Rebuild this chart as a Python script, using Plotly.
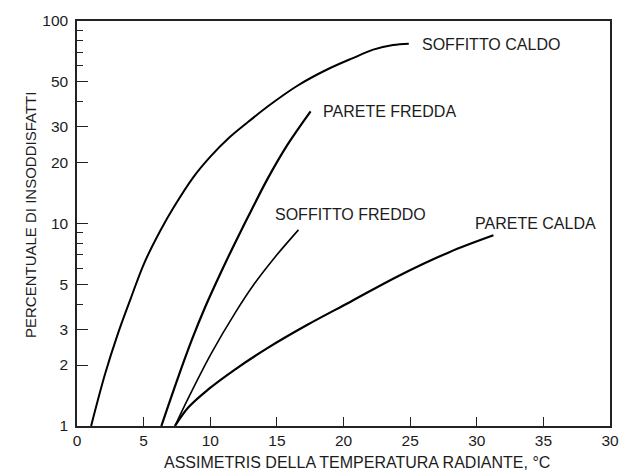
import math
import plotly.graph_objects as go

# Percentuale di insoddisfatti vs asimmetria della temperatura radiante
soffitto_caldo_x = [1.06, 2.1, 3.04, 4.03, 5.04, 6.25, 7.27, 8.75, 10.01, 11.35, 12.83,
                    14.56, 16.54, 18.77, 20.75, 22.23, 23.72, 24.9]
soffitto_caldo_y = [1.0, 1.8, 2.82, 4.26, 6.36, 9.21, 12.06, 17.0, 21.4, 26.3, 31.7,
                    38.9, 47.9, 57.6, 65.8, 72.2, 76.1, 77.3]

parete_fredda_x = [6.33, 7.49, 8.63, 9.62, 10.85, 11.85, 13.08, 14.32, 15.8, 17.53]
parete_fredda_y = [1.0, 1.667, 2.675, 3.87, 5.83, 7.99, 11.6, 16.7, 24.5, 35.8]

soffitto_freddo_x = [7.35, 8.38, 10.09, 11.87, 13.35, 14.84, 16.62]
soffitto_freddo_y = [1.0, 1.385, 2.29, 3.62, 5.08, 6.8, 9.3]

parete_calda_x = [7.35, 8.38, 9.87, 11.85, 14.32, 17.29, 20.5, 24.2, 27.9, 31.25]
parete_calda_y = [1.0, 1.24, 1.52, 1.9, 2.43, 3.16, 4.1, 5.54, 7.2, 8.74]

curve_names = ["SOFFITTO CALDO", "PARETE FREDDA", "SOFFITTO FREDDO", "PARETE CALDA"]

x_tickvals = [0, 5, 10, 15, 20, 25, 30, 35, 40]
x_ticktext = ["0", "5", "10", "15", "20", "25", "30", "35", "30"]
y_tickvals = [1, 2, 3, 5, 10, 20, 30, 50, 100]
y_minor = [4, 6, 7, 8, 9, 40, 60, 70, 80, 90]

x_title = "ASSIMETRIS DELLA TEMPERATURA RADIANTE, °C"
y_title = "PERCENTUALE DI INSODDISFATTI"

FONT = "Arial, 'Liberation Sans', sans-serif"
INK = "#1c1c1c"

series = [
    (soffitto_caldo_x, soffitto_caldo_y, 2.0),
    (parete_fredda_x, parete_fredda_y, 2.2),
    (soffitto_freddo_x, soffitto_freddo_y, 1.6),
    (parete_calda_x, parete_calda_y, 2.2),
]

fig = go.Figure()
for (xs, ys, w), name in zip(series, curve_names):
    fig.add_trace(go.Scatter(
        x=xs, y=ys, mode="lines", name=name,
        line=dict(color="black", width=w, shape="spline", smoothing=1.0),
        showlegend=False, hoverinfo="skip",
    ))

# curve labels, placed relative to each curve's last point
label_offsets = [
    dict(xanchor="left", xshift=11, yshift=-1),
    dict(xanchor="left", xshift=10, yshift=0),
    dict(xanchor="center", xshift=52, yshift=15),
    dict(xanchor="left", xshift=-20, yshift=12),
]
for (xs, ys, _), name, off in zip(series, curve_names, label_offsets):
    fig.add_annotation(
        x=xs[-1], y=math.log10(ys[-1]), xref="x", yref="y",
        text=name, showarrow=False, yanchor="middle",
        font=dict(family=FONT, size=16, color=INK), **off,
    )

fig.add_annotation(
    x=0.526, y=-0.091, xref="paper", yref="paper", text=x_title,
    showarrow=False, xanchor="center", yanchor="middle",
    font=dict(family=FONT, size=16, color=INK),
)
fig.add_annotation(
    x=-0.087, y=0.52, xref="paper", yref="paper", text=y_title,
    showarrow=False, xanchor="center", yanchor="middle", textangle=-90,
    font=dict(family=FONT, size=15, color=INK),
)

axis_common = dict(
    showgrid=False, zeroline=False, showline=True, linecolor="#222",
    linewidth=1.5, mirror=True, ticks="inside", tickcolor="#222",
    tickwidth=1.2, tickfont=dict(family=FONT, size=15.5, color=INK),
)

fig.update_xaxes(
    range=[0, 40], tickmode="array", tickvals=x_tickvals, ticktext=x_ticktext,
    ticklen=9, **axis_common,
)
fig.update_yaxes(
    type="log", range=[0, 2], tickmode="array", tickvals=y_tickvals,
    ticktext=[str(v) for v in y_tickvals], ticklen=11, ticklabelstandoff=4,
    minor=dict(tickvals=y_minor, ticks="inside", ticklen=6, tickcolor="#222",
               tickwidth=1.2, showgrid=False),
    **axis_common,
)

fig.update_layout(
    width=631, height=473,
    margin=dict(l=77, r=15, t=16, b=47, pad=0),
    paper_bgcolor="white", plot_bgcolor="white",
    font=dict(family=FONT, color=INK),
)

fig.write_html("out.html")
